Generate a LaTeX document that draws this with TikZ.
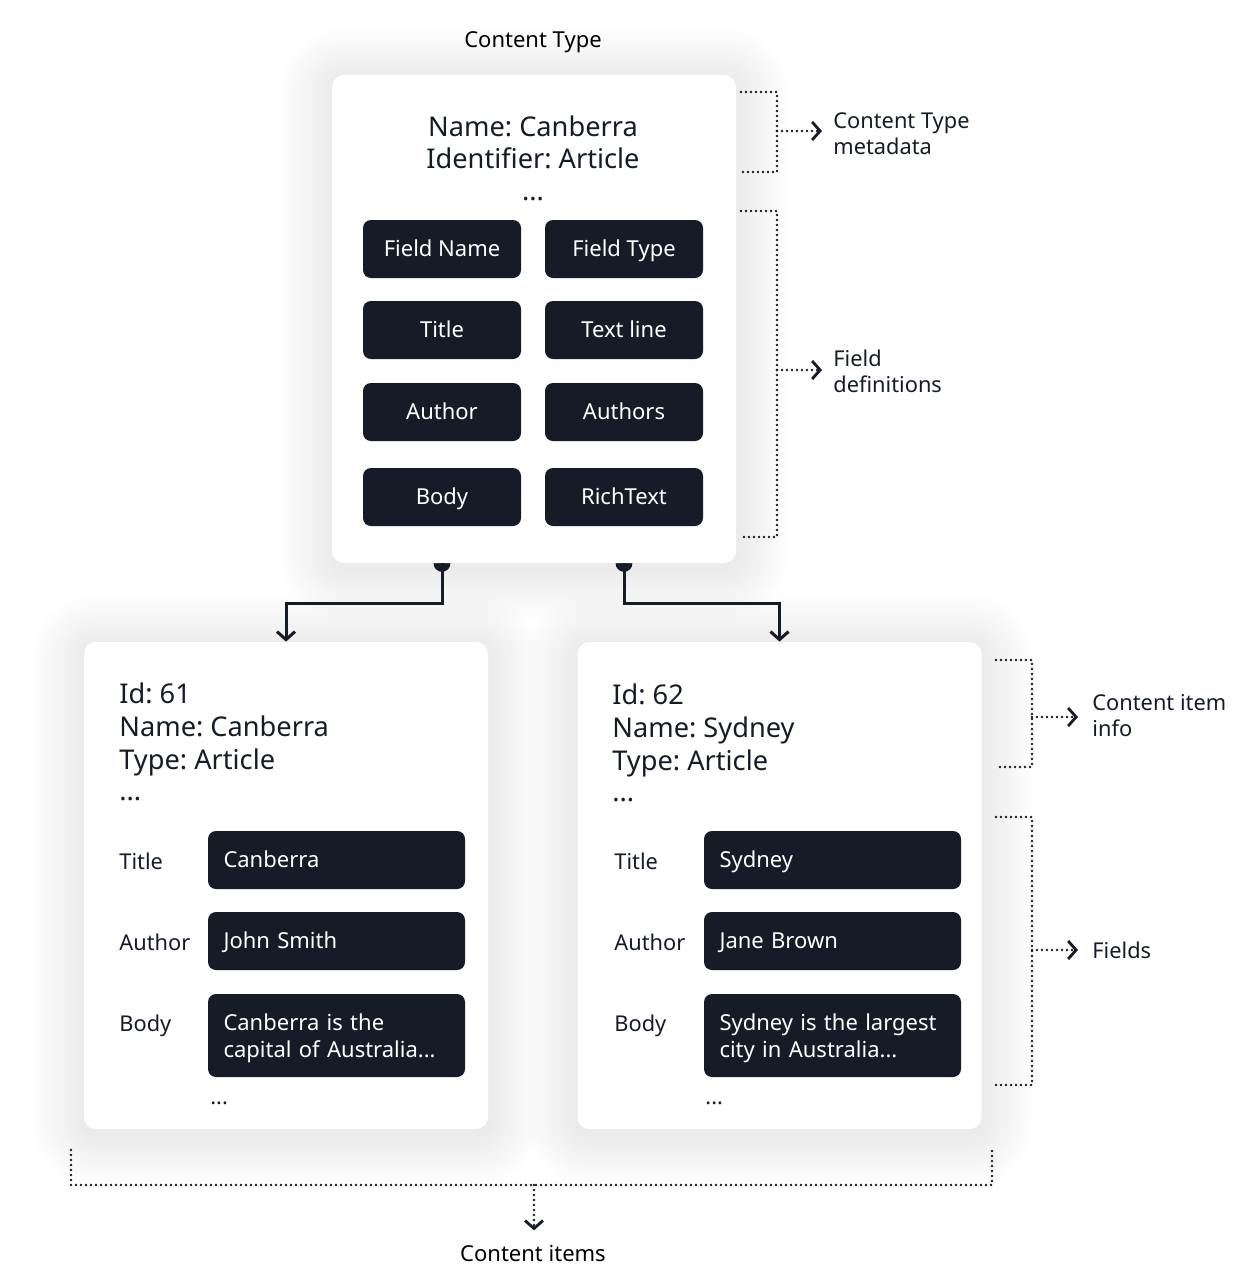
\documentclass[tikz,border=0pt]{standalone}
\usepackage{fontspec}
\setmainfont{Noto Sans}
\frenchspacing
\usetikzlibrary{arrows.meta,calc}
\definecolor{ink}{HTML}{151C27}
\pgfdeclarelayer{back}
\pgfdeclarelayer{bg}
\pgfsetlayers{back,bg,main}
\tikzset{
  card/.style={fill=white, rounded corners=6pt, inner sep=0pt},
  btn/.style={fill=ink, text=white, rounded corners=4pt, minimum width=79pt, minimum height=29pt, inner sep=0pt, text height=7.9pt, text depth=0pt, font=\fontsize{11}{13}\selectfont},
  valbox/.style={fill=ink, text=white, rounded corners=4pt, minimum width=128.5pt, minimum height=29pt, text width=113pt, align=left, inner xsep=7.75pt, inner ysep=0pt, font=\fontsize{11}{13.5}\selectfont},
  oneline/.style={text height=7.9pt, text depth=0pt},
  bigtxt/.style={text=ink, inner sep=0pt, font=\fontsize{13.6}{16.5}\selectfont},
  rowlab/.style={text=ink, inner sep=0pt, anchor=west, font=\fontsize{10.9}{13}\selectfont},
  sidelab/.style={text=ink, inner sep=0pt, anchor=west, align=left, font=\fontsize{10.9}{13}\selectfont},
  title/.style={text=black, inner sep=0pt, font=\fontsize{11}{13}\selectfont},
  conn/.style={draw=ink, line width=1.5pt, -{Straight Barb[length=4pt,width=9pt,line width=1.5pt]}},
  dotline/.style={draw=ink, line width=1.3pt, line cap=round, dash pattern=on 0pt off 2.5pt},
  dotarrow/.style={dotline, -{Straight Barb[length=4pt,width=9pt,line width=1.4pt]}},
}
\begin{document}
\begin{tikzpicture}[x=0.5pt,y=-0.5pt]
\begin{pgfonlayer}{back}
\fill[white] (0,0) rectangle (1242,1280);
\end{pgfonlayer}
\useasboundingbox (0,0) rectangle (1242,1280);

% cards
\node[card, minimum width=202pt, minimum height=244pt] (ct) at (534,319) {};
\node[card, minimum width=202pt, minimum height=243.5pt] (ci1) at (286,885.5) {};
\node[card, minimum width=202pt, minimum height=243.5pt] (ci2) at (779.5,885.5) {};

\begin{pgfonlayer}{bg}
\foreach \c in {ct,ci1,ci2}{
  \foreach \i in {1,...,20}{
    \pgfmathsetmacro\d{2.6*\i}
    \pgfmathsetmacro\r{6+1.3*\i}
    \fill[black, opacity=0.0042, rounded corners=\r pt]
      ($(\c.north west)+(-\d,-\d+5)$) rectangle ($(\c.south east)+(\d,\d+5)$);
  }
}
\end{pgfonlayer}

\node[title] (cttitle) at (533,42) {Content Type};

% content type card
\node[bigtxt, anchor=base] (ctn) at (533,136) {Name: Canberra};
\node[bigtxt, anchor=base] (cti) at (533,168) {Identifier: Article};
\node[bigtxt, anchor=base] (ctd) at (533,200) {...};

\node[btn] (h1) at (442,249) {Field Name};
\node[btn] (h2) at (624,249) {Field Type};
\node[btn] (r1a) at (442,330) {Title};
\node[btn] (r1b) at (624,330) {Text line};
\node[btn] (r2a) at (442,412) {Author};
\node[btn] (r2b) at (624,412) {Authors};
\node[btn] (r3a) at (442,497) {Body};
\node[btn] (r3b) at (624,497) {RichText};

% connectors
\begin{pgfonlayer}{bg}
\fill[ink] (r3a |- ct.south) circle (4.2pt);
\fill[ink] (r3b |- ct.south) circle (4.2pt);
\end{pgfonlayer}
\draw[conn] (r3a |- ct.south) -- ++(0,40) -| (ci1.north);
\draw[conn] (r3b |- ct.south) -- ++(0,40) -| (ci2.north);

% content item 1
\node[bigtxt, anchor=base west] (i1a) at (119,703) {Id: 61};
\node[bigtxt, anchor=base west] (i1b) at (119,736) {Name: Canberra};
\node[bigtxt, anchor=base west] (i1c) at (119,769) {Type: Article};
\node[bigtxt, anchor=base west] (i1d) at (119,800) {...};
\node[rowlab] (l1a) at (119,861) {Title};
\node[rowlab] (l1b) at (119,942) {Author};
\node[rowlab] (l1c) at (119,1026) {Body};
\node[valbox, oneline] (v1a) at (336.5,860) {Canberra};
\node[valbox, oneline] (v1b) at (336.5,941) {John Smith};
\node[valbox, minimum height=41.5pt] (v1c) at (336.5,1035.5) {\rule{0pt}{11.4pt}Canberra is the\\capital of Australia...};
\node[rowlab] (e1) at (210,1103) {...};

% content item 2
\node[bigtxt, anchor=base west] (i2a) at (612,704) {Id: 62};
\node[bigtxt, anchor=base west] (i2b) at (612,737) {Name: Sydney};
\node[bigtxt, anchor=base west] (i2c) at (612,770) {Type: Article};
\node[bigtxt, anchor=base west] (i2d) at (612,801) {...};
\node[rowlab] (l2a) at (614,861) {Title};
\node[rowlab] (l2b) at (614,942) {Author};
\node[rowlab] (l2c) at (614,1026) {Body};
\node[valbox, oneline] (v2a) at (832.5,860) {Sydney};
\node[valbox, oneline] (v2b) at (832.5,941) {Jane Brown};
\node[valbox, minimum height=41.5pt] (v2c) at (832.5,1035.5) {\rule{0pt}{11.4pt}Sydney is the largest\\city in Australia...};
\node[rowlab] (e2) at (705,1103) {...};

% side labels
\node[sidelab] (s1) at (833,134) {Content Type\\metadata};
\node[sidelab] (s2) at (833,371) {Field\\definitions};
\node[sidelab] (s3) at (1092,716) {Content item\\info};
\node[sidelab] (s4) at (1092,950) {Fields};
\node[title] (items) at (533,1253) {Content items};

% brackets
\coordinate (m1) at (777,131);
\coordinate (m2) at (777,370);
\coordinate (m3) at (1032,717);
\coordinate (m4) at (1032,950);
\coordinate (m5) at (534,1185);
\draw[dotline] (741,92) -- (777,92) -- (777,172) -- (741,172);
\draw[dotline] (741,211) -- (777,211) -- (777,537) -- (741,537);
\draw[dotline] (996,660) -- (1032,660) -- (1032,767) -- (996,767);
\draw[dotline] (996,817) -- (1032,817) -- (1032,1085) -- (996,1085);
\draw[dotline] (71,1150) -- (71,1185) -- (992,1185) -- (992,1150);
\draw[dotarrow, shorten >=5.5pt] (m1) -- (m1 -| s1.west);
\draw[dotarrow, shorten >=5.5pt] (m2) -- (m2 -| s2.west);
\draw[dotarrow, shorten >=7pt] (m3) -- (m3 -| s3.west);
\draw[dotarrow, shorten >=7pt] (m4) -- (m4 -| s4.west);
\draw[dotarrow, shorten >=7pt] (m5) -- (m5 |- items.north);
\end{tikzpicture}
\end{document}
